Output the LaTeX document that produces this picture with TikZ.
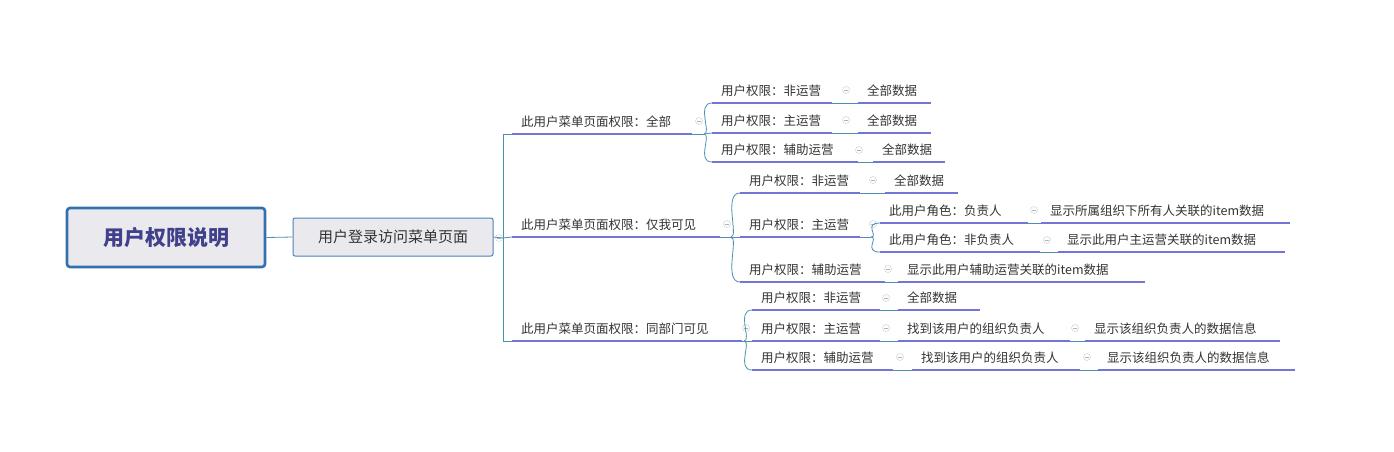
\documentclass[tikz,border=0pt]{standalone}
\usepackage{fontspec}
\setmainfont{Noto Sans CJK SC}
\begin{document}
\begin{tikzpicture}[x=1pt,y=-1pt,
  lk/.style={draw=blue!35!cyan!40!gray, line width=0.8pt},
  ul/.style={draw=blue!55!gray!70, line width=2pt},
  topic/.style={inner sep=0pt, anchor=base west, text=black!80, font=\fontsize{12.5}{14}\selectfont},
  fold/.style={circle, draw=gray!45, minimum size=7pt, inner sep=0pt,
    path picture={\draw[gray!60,line width=0.5pt] ([xshift=-2pt]path picture bounding box.center) -- ([xshift=2pt]path picture bounding box.center);}}]
\useasboundingbox (0,0) rectangle (1394,451);
% tp: name, x1, x2, underline y, text
\newcommand\tp[5]{%
  \node[topic] (#1) at (#2+9,#4-8) {#5};
  \coordinate (#1w) at (#2,#4); \coordinate (#1e) at (#3,#4);
  \draw[ul] (#1w) -- (#1e);}
\newcommand\fd[3]{\node[fold] (#1) at (#2,#3) {};}
% root
\node[draw=blue!50!cyan!60!black!80, line width=2.6pt, fill=blue!12!gray!15, rounded corners=3pt,
  minimum width=198pt, minimum height=59pt, font=\fontsize{21}{24}\selectfont\bfseries, text=blue!40!black!75] (root) at (166,237.5) {用户权限说明};
\node[draw=blue!50!cyan!60!black!70, line width=1pt, fill=blue!12!gray!15, rounded corners=2pt,
  minimum width=200pt, minimum height=38pt, font=\fontsize{15}{18}\selectfont, text=black!80] (s2) at (393,237) {用户登录访问菜单页面};
\draw[lk] (root.east) -- (s2.west);
\fd{f0}{499}{238}
\coordinate (tr) at (503,238);
\draw[lk] (s2.east) -- (tr);
% branches
\tp{b1}{512}{692}{134}{此用户菜单页面权限：全部}
\tp{b2}{512}{720}{237}{此用户菜单页面权限：仅我可见}
\tp{b3}{512}{742}{341}{此用户菜单页面权限：同部门可见}
\draw[lk] (tr) |- (b1w); \draw[lk] (tr) |- (b3w); \draw[lk] (tr) -- (b2w);
\fd{f1}{699}{121}\fd{f2}{727}{224}\fd{f3}{746}{328}
% b1 children
\tp{a1}{712}{832}{103}{用户权限：非运营}\fd{fa1}{846}{90}\tp{a1l}{858}{931}{103}{全部数据}
\tp{a2}{712}{832}{133}{用户权限：主运营}\fd{fa2}{846}{120}\tp{a2l}{858}{931}{133}{全部数据}
\tp{a3}{712}{858}{162}{用户权限：辅助运营}\fd{fa3}{859}{150}\tp{a3l}{873}{945}{162}{全部数据}
% b2 children
\tp{c1}{740}{860}{193}{用户权限：非运营}\fd{fc1}{873}{180}\tp{c1l}{885}{958}{193}{全部数据}
\tp{c2}{740}{860}{237}{用户权限：主运营}\fd{fc2}{873}{224}
\tp{d1}{880}{1028}{223}{此用户角色：负责人}\fd{fd1}{1034}{210}\tp{d1l}{1041}{1290}{223}{显示所属组织下所有人关联的item数据}
\tp{d2}{880}{1040}{252}{此用户角色：非负责人}\fd{fd2}{1047}{240}\tp{d2l}{1058}{1285}{252}{显示此用户主运营关联的item数据}
\tp{c3}{740}{885}{282}{用户权限：辅助运营}\fd{fc3}{888}{269}\tp{c3l}{898}{1145}{282}{显示此用户辅助运营关联的item数据}
% b3 children
\tp{e1}{752}{880}{310}{用户权限：非运营}\fd{fe1}{886}{298}\tp{e1l}{898}{980}{310}{全部数据}
\tp{e2}{752}{880}{341}{用户权限：主运营}\fd{fe2}{886}{328}\tp{e2m}{898}{1070}{341}{找到该用户的组织负责人}\fd{fe2m}{1075}{328}\tp{e2l}{1085}{1280}{341}{显示该组织负责人的数据信息}
\tp{e3}{752}{893}{370}{用户权限：辅助运营}\fd{fe3}{900}{357}\tp{e3m}{912}{1080}{370}{找到该用户的组织负责人}\fd{fe3m}{1087}{357}\tp{e3l}{1098}{1295}{370}{显示该组织负责人的数据信息}
% curved links
\newcommand\cv[2]{\draw[lk] (#1) .. controls ([xshift=8pt]#1) and ([xshift=-8pt]#1 |- #2) .. (#2);}
\coordinate (p1) at (704,134); \cv{p1}{a1w}\cv{p1}{a3w}\draw[lk](p1)--(a2w);
\coordinate (p2) at (731,237); \cv{p2}{c1w}\cv{p2}{c3w}\draw[lk](p2)--(c2w);
\coordinate (p3) at (744,341); \cv{p3}{e1w}\cv{p3}{e3w}\draw[lk](p3)--(e2w);
\coordinate (p4) at (871,237); \cv{p4}{d1w}\cv{p4}{d2w}
\foreach \a/\b in {a1e/a1lw,a2e/a2lw,a3e/a3lw,c1e/c1lw,c3e/c3lw,d1e/d1lw,d2e/d2lw,e1e/e1lw,e2e/e2mw,e2me/e2lw,e3e/e3mw,e3me/e3lw,b1e/p1,b2e/p2,b3e/p3,c2e/p4}
  \draw[lk] (\a) -- (\b);
\end{tikzpicture}
\end{document}
